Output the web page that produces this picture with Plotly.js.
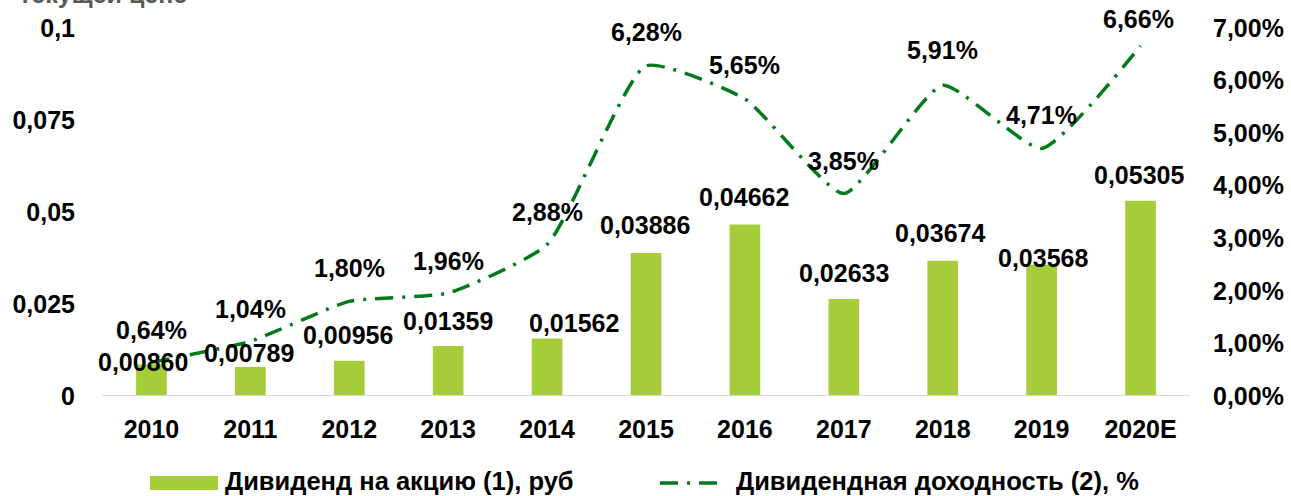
<!DOCTYPE html>
<html><head><meta charset="utf-8">
<script src="https://cdn.plot.ly/plotly-3.0.1.min.js"></script>
<style>html,body{margin:0;padding:0;background:#fff}#chart{width:1291px;height:496px}</style>
</head><body><div id="chart"></div>
<script>
const years = ['2010','2011','2012','2013','2014','2015','2016','2017','2018','2019','2020E'];
const dividend = [0.00860,0.00789,0.00956,0.01359,0.01562,0.03886,0.04662,0.02633,0.03674,0.03568,0.05305];
const yieldPct = [0.64,1.04,1.80,1.96,2.88,6.28,5.65,3.85,5.91,4.71,6.66];
const leftTickVals = [0,0.025,0.05,0.075,0.1];
const leftTickText = ['0','0,025','0,05','0,075','0,1'];
const rightTickVals = [0,1,2,3,4,5,6,7];
const rightTickText = ['0,00%','1,00%','2,00%','3,00%','4,00%','5,00%','6,00%','7,00%'];
const seriesNames = ['Дивиденд на акцию (1), руб','Дивидендная доходность (2), %'];
const cutTitle = 'текущей цене';

// label placement tweaks (pixels)
const barLabelDx = [-8,-1,-1,0,27,-1,-1,0,-3,1,-2];
const barLabelDy = [2,14,26,25,16,28,27,26,28,7,26];
const lineLabelDx = [0,0,0,0,0,0,0,0,0,0,-2];
const lineLabelDy = [32,32,33,32,33,34,34,33,35,33,27];

const FONT = 'Liberation Sans, Arial, sans-serif';
const FS = 25;
const fmtNum = v => v.toFixed(5).replace('.', ',');
const fmtPct = v => v.toFixed(2).replace('.', ',') + '%';

const barColor = '#A5CD39';
const lineColor = '#007A1A';

const traces = [
  {type:'bar', x: years, y: dividend, width: 0.31, marker:{color: barColor}, yaxis:'y', hoverinfo:'skip', showlegend:false},
  {type:'scatter', mode:'lines', x: years, y: yieldPct, yaxis:'y2', line:{color: lineColor, width:3.5, dash:'18px,9px,3px,9px', shape:'spline', smoothing:0.5}, hoverinfo:'skip', showlegend:false}
];

const annotations = [];
years.forEach((c,i)=>{
  annotations.push({x:i, y:dividend[i], xref:'x', yref:'y', text:fmtNum(dividend[i]), showarrow:false, xshift:barLabelDx[i], yshift:barLabelDy[i], yanchor:'middle', xanchor:'center', font:{family:FONT, size:FS, color:'#000', weight:'bold'}});
  annotations.push({x:i, y:yieldPct[i], xref:'x', yref:'y2', text:fmtPct(yieldPct[i]), showarrow:false, xshift:lineLabelDx[i], yshift:lineLabelDy[i], yanchor:'middle', xanchor:'center', font:{family:FONT, size:FS, color:'#000', weight:'bold'}});
});
// cut-off title fragment
annotations.push({xref:'paper', yref:'paper', x:-0.078, y:1.05, xanchor:'left', yanchor:'bottom', text:cutTitle, showarrow:false, font:{family:FONT, size:FS, color:'#595959'}});
// legend texts
annotations.push({xref:'paper', yref:'paper', x:(223-102)/1088, y:(396-481)/368, xanchor:'left', yanchor:'middle', text:seriesNames[0], showarrow:false, font:{family:FONT, size:25.5, color:'#000', weight:'bold'}});
annotations.push({xref:'paper', yref:'paper', x:(734-102)/1088, y:(396-481)/368, xanchor:'left', yanchor:'middle', text:seriesNames[1], showarrow:false, font:{family:FONT, size:25.5, color:'#000', weight:'bold'}});

const shapes = [
  {type:'line', xref:'paper', yref:'y', x0:0, x1:1, y0:0, y1:0, line:{color:'#D9D9D9', width:2}},
  {type:'rect', xref:'paper', yref:'paper', x0:(150-102)/1088, x1:(218-102)/1088, y0:(396-490)/368, y1:(396-476)/368, fillcolor:barColor, line:{width:0}},
  {type:'line', xref:'paper', yref:'paper', x0:(660-102)/1088, x1:(720-102)/1088, y0:(396-483)/368, y1:(396-483)/368, line:{color:lineColor, width:3.5, dash:'18px,9px,3px,9px'}}
];

const layout = {
  width:1291, height:496,
  margin:{l:102, r:101, t:28, b:100, pad:0},
  paper_bgcolor:'#fff', plot_bgcolor:'#fff',
  font:{family:FONT, size:FS, color:'#000', weight:'bold'},
  showlegend:false,
  xaxis:{type:'category', range:[-0.5,10.5], autorange:false, showgrid:false, zeroline:false, showline:false, ticks:'', tickfont:{family:FONT, size:FS, weight:'bold'}, ticklabelstandoff:16},
  yaxis:{range:[0,0.1], autorange:false, tickvals:leftTickVals, ticktext:leftTickText, showgrid:false, zeroline:false, showline:false, ticks:'', tickfont:{family:FONT, size:FS, weight:'bold'}, ticklabelstandoff:26},
  yaxis2:{range:[0,7], autorange:false, overlaying:'y', side:'right', tickvals:rightTickVals, ticktext:rightTickText, showgrid:false, zeroline:false, showline:false, ticks:'', tickfont:{family:FONT, size:FS, weight:'bold'}, ticklabelstandoff:22},
  annotations, shapes
};
Plotly.newPlot('chart', traces, layout, {displayModeBar:false, staticPlot:true});
</script></body></html>
